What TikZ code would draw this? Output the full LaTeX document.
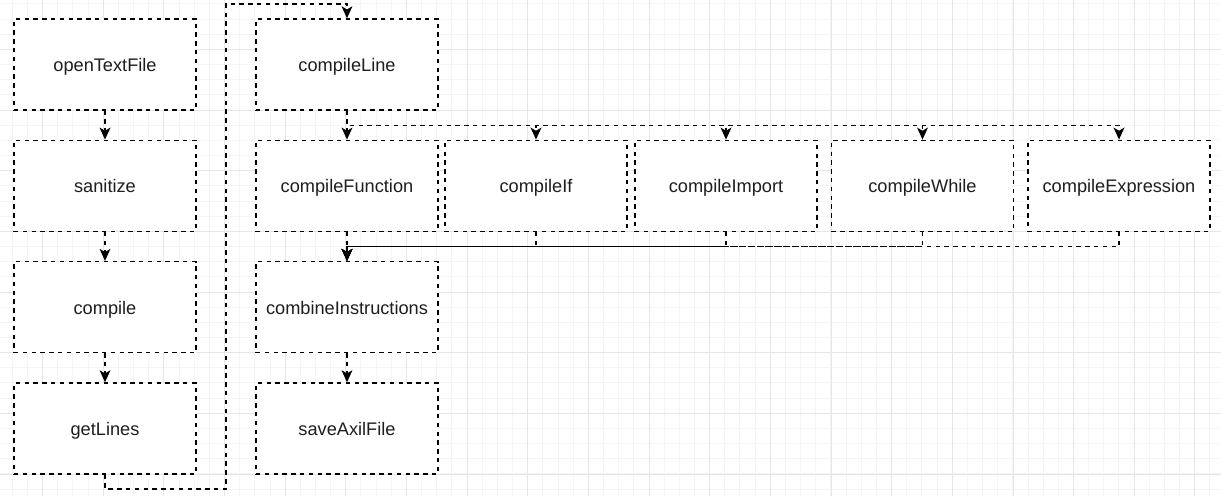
\documentclass[tikz,border=0pt]{standalone}
\usepackage{fontspec}
\setmainfont{Liberation Sans}
\usetikzlibrary{arrows.meta}
\definecolor{minorline}{HTML}{F4F4F4}
\definecolor{majorline}{HTML}{E6E6E6}
\definecolor{labeltext}{HTML}{1E1E1E}
\tikzset{
  minorgrid/.style={draw=minorline, line width=0.5pt},
  majorgrid/.style={draw=majorline, line width=0.5pt},
  dashpat/.style={dash pattern=on 2.2pt off 2.2pt},
  fnbox/.style={draw=black, fill=white, dashpat, line width=0.7pt,
    minimum width=91pt, minimum height=45.5pt, inner sep=0pt,
    text height=8.2pt, text depth=1pt,
    font=\fontsize{9.1}{11}\selectfont, text=labeltext},
  flow/.style={draw=black, dashpat, line width=0.7pt,
    -{Stealth[length=6pt, width=5.4pt, inset=1.6pt]}},
}
\begin{document}
\begin{tikzpicture}[x=0.5pt, y=-0.5pt]
\useasboundingbox (0,0) rectangle (1221,496);
\fill[white] (0,0) rectangle (1221,496);
% background grid
\foreach \i in {0,...,80} {
  \draw[minorgrid] ({12.3+15.16*\i},0) -- ({12.3+15.16*\i},496);
}
\foreach \j in {0,...,32} {
  \draw[minorgrid] (0,{4.0+15.16*\j}) -- (1221,{4.0+15.16*\j});
}
\foreach \i in {0,...,20} {
  \draw[majorgrid] ({42.6+60.65*\i},0) -- ({42.6+60.65*\i},496);
}
\foreach \j in {-1,...,8} {
  \draw[majorgrid] (0,{49.5+60.65*\j}) -- (1221,{49.5+60.65*\j});
}

% left column
\node[fnbox] (openTextFile) at (105,64.5)  {openTextFile};
\node[fnbox] (sanitize)     at (105,185.8) {sanitize};
\node[fnbox] (compile)      at (105,307.1) {compile};
\node[fnbox] (getLines)     at (105,428.5) {getLines};

% right part
\node[fnbox] (compileLine)        at (347,64.5)    {compileLine};
\node[fnbox] (compileFunction)    at (347,185.8)   {compileFunction};
\node[fnbox] (compileIf)          at (536,185.8)   {compileIf};
\node[fnbox] (compileImport)      at (726,185.8)   {compileImport};
\node[fnbox] (compileWhile)       at (922.5,185.8) {compileWhile};
\node[fnbox] (compileExpression)  at (1119,185.8)  {compileExpression};
\node[fnbox] (combineInstructions) at (347,307.1)  {combineInstructions};
\node[fnbox] (saveAxilFile)       at (347,428.5)   {saveAxilFile};

% route points
\coordinate (loopLow)  at (226,489);
\coordinate (loopHigh) at (226,4);
\coordinate (fanOut)   at (347,125.5);
\coordinate (fanIn)    at (347,246.5);

% connectors
\draw[flow] (openTextFile) -- (sanitize);
\draw[flow] (sanitize) -- (compile);
\draw[flow] (compile) -- (getLines);
\draw[flow] (getLines.south) |- (loopLow) -- (loopHigh) -| (compileLine.north);

\draw[flow] (compileLine) -- (compileFunction);
\draw[flow] (compileLine.south) -- (fanOut) -| (compileIf.north);
\draw[flow] (compileLine.south) -- (fanOut) -| (compileImport.north);
\draw[flow] (compileLine.south) -- (fanOut) -| (compileWhile.north);
\draw[flow] (compileLine.south) -- (fanOut) -| (compileExpression.north);

\draw[flow] (compileFunction) -- (combineInstructions);
\draw[flow] (compileIf.south) |- (fanIn) -- (combineInstructions.north);
\draw[flow] (compileImport.south) |- (fanIn) -- (combineInstructions.north);
\draw[flow] (compileWhile.south) |- (fanIn) -- (combineInstructions.north);
\draw[flow] (compileExpression.south) |- (fanIn) -- (combineInstructions.north);

\draw[flow] (combineInstructions) -- (saveAxilFile);
\end{tikzpicture}
\end{document}
